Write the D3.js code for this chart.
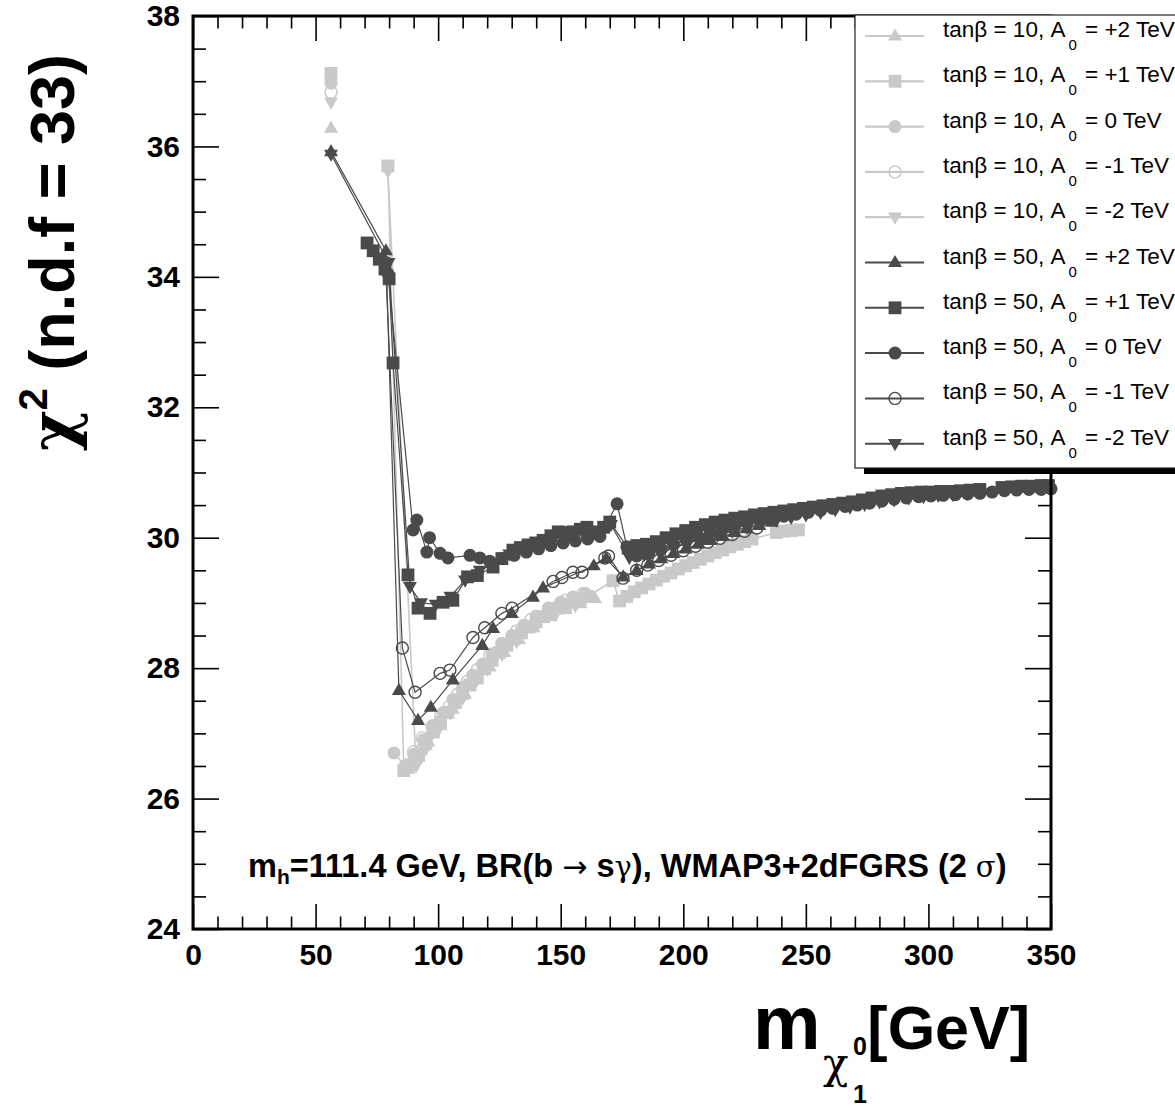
<!DOCTYPE html>
<html>
<head>
<meta charset="utf-8">
<script src="https://cdn.jsdelivr.net/npm/d3@7"></script>
<style>
  body { margin: 0; background: #fff; }
  svg { display: block; font-family: "Liberation Sans", Arial, Helvetica, sans-serif; }
</style>
</head>
<body>
<svg id="chart" width="1175" height="1109"></svg>
<script>
// ---- axis values ----
const xMajorTicks = [0, 50, 100, 150, 200, 250, 300, 350];
const xTickLabels = ["0", "50", "100", "150", "200", "250", "300", "350"];
const yMajorTicks = [24, 26, 28, 30, 32, 34, 36, 38];
const yTickLabels = ["24", "26", "28", "30", "32", "34", "36", "38"];

// ---- chi^2 vs neutralino mass; null marks a break in the line ----
// tan(beta) = 10
const tb10_Ap2 = [[56.3,36.28], null, [88,26.45],[92,26.64],[96,26.87],[101,27.12],[106,27.37],[111,27.6],[116,27.82],[121,28.02],[127,28.24],[133,28.44],[139,28.62],[146,28.79],[152,28.9],[158,28.99],[164,29.07]];
const tb10_Ap1 = [[56.3,37.12], null, [79.5,35.7],[86,26.43],[89,26.52],[92,26.66],[95,26.84],[98,27.02],[101,27.17],[104,27.32],[107,27.47],[110,27.61],[113,27.74],[116,27.87],[119,27.99],[122,28.12],[125,28.24],[128,28.35],[131,28.45],[134,28.54],[137,28.63],[140,28.71],[143,28.79],[146,28.86],[149,28.92],[152,28.97],[155,29.02],[158,29.06],[161,29.1],[171.3,29.34],[174,29.03],[177,29.1],[180,29.17],[183,29.23],[186,29.29],[189,29.35],[192,29.41],[195,29.46],[198,29.52],[201,29.57],[204,29.62],[207,29.67],[210,29.72],[213,29.77],[216,29.81],[219,29.86],[222,29.9],[225,29.94],[228,29.98],[238,30.08],[241,30.1],[244,30.11],[247,30.12]];
const tb10_A0  = [[56.3,36.97], null, [82,26.7],[86.5,26.5],[90,26.68],[94,26.9],[98,27.12],[102,27.32],[106,27.52],[110,27.71],[114,27.89],[118,28.06],[122,28.22],[126,28.37],[130,28.5],[135,28.66],[140,28.8],[145,28.92],[150,29.01],[155,29.09],[160,29.15]];
const tb10_Am1 = [[56.3,36.83], null, [90,26.72],[93.5,26.93],[97.5,27.11],[101,27.26],[104.5,27.41],[108,27.6],[112,27.8],[116,27.98],[121,28.2],[126,28.38],[132,28.57],[138,28.75],[145,28.92],[152,29.04],[159,29.14]];
const tb10_Am2 = [[56.3,36.68], null, [79.5,35.62],[91,26.5],[95,26.76],[100,27.05],[105,27.31],[110,27.54],[115,27.77],[120,27.98],[126,28.21],[132,28.41],[140,28.65],[148,28.83],[156,28.96]];

// tan(beta) = 50
const tb50_Ap2 = [[56.3,35.92],[78.7,34.4],[84,27.66],[91.8,27.2],[97,27.4],[106,27.82],[118,28.35],[122.4,28.61],[130,28.84],[138.7,29.09],[142.8,29.23],[163.5,29.57],[168.5,29.68],[175.5,29.4],[181,29.5],[186,29.6],[191,29.68],[196,29.76],[201,29.83],[206,29.9],[211,29.96],[216,30.02],[221,30.08],[226,30.14],[231,30.19],[236,30.24]];
const tb50_Ap1 = [[71,34.52],[73.5,34.4],[76,34.27],[78.3,34.12],[80,33.97],[81.6,32.68],[87.7,29.43],[91.8,28.92],[96.7,28.84],[102,29.01],[106,29.04],[112,29.4],[116,29.42],[122.4,29.55],[126,29.68],[130.5,29.81],[133.5,29.85],[136.7,29.89],[139.8,29.92],[142.8,29.96],[146,30.03],[149,30.09],[152,30.08],[155,30.09],[158,30.13],[160.7,30.16],[164.8,30.09],[167.5,30.16],[170,30.24],[177.5,29.84],[181,29.88],[185,29.9],[189,29.94],[193,30.0],[197,30.06],[201,30.11],[205,30.16],[209,30.2],[213,30.24],[217,30.27],[221,30.3],[225,30.32],[229,30.35],[233,30.37],[237,30.39],[241,30.41],[245,30.43],[249,30.45],[253,30.47],[257,30.49],[261,30.51],[265,30.53],[269,30.55],[273,30.58],[277,30.61],[281,30.64],[285,30.66],[289,30.68],[293,30.69],[297,30.7],[301,30.7],[305,30.71],[309,30.71],[313,30.72],[317,30.73],[321,30.74],[330,30.77],[334,30.78],[338,30.79],[342,30.79],[346,30.8],[349,30.8]];
const tb50_A0  = [[79.5,34.05],[89.8,30.12],[91.3,30.27],[95.4,29.78],[96.5,30.0],[100.8,29.76],[104,29.69],[113,29.73],[117,29.69],[121,29.64],[126,29.68],[131,29.73],[136,29.78],[141,29.83],[146,29.88],[151,29.92],[156,29.95],[161,29.98],[166,30.02],[173,30.52],[177,29.86],[181,29.72],[186,29.76],[191,29.83],[196,29.9],[201,29.97],[206,30.03],[211,30.09],[216,30.14],[221,30.19],[226,30.23],[231,30.27],[236,30.3],[241,30.33],[246,30.36],[251,30.39],[256,30.42],[261,30.45],[266,30.48],[271,30.5],[276,30.53],[281,30.56],[286,30.59],[291,30.61],[296,30.63],[301,30.64],[306,30.65],[311,30.66],[316,30.67],[321,30.68],[326,30.7],[331,30.72],[336,30.73],[341,30.74],[346,30.74],[350,30.75]];
const tb50_Am1 = [[78.5,34.22],[85.4,28.31],[90.6,27.63],[100.8,27.92],[104.8,27.97],[114.2,28.47],[119,28.62],[126,28.84],[130.2,28.92],[146.9,29.33],[150.5,29.39],[155,29.47],[158.7,29.47],[168,29.69],[169.5,29.72],[175.4,29.38],[181,29.5],[185.5,29.58],[190,29.65],[195,29.73],[200,29.8],[205,29.87],[210,29.93],[215,29.99],[220,30.05],[225,30.1],[230,30.15]];
const tb50_Am2 = [[56.3,35.88],[79.8,34.22],[88.5,29.25],[93,29.0],[99,28.98],[105,29.1],[111,29.35],[117,29.5],[123,29.6],[129,29.75],[135,29.85],[141,29.92],[147,29.98],[153,30.04],[159,30.08],[165,30.1],[170.5,30.2],[178,29.7],[184,29.74],[190,29.8],[196,29.86],[202,29.92],[208,29.98],[214,30.04],[220,30.1],[226,30.16],[232,30.22],[238,30.27],[244,30.31],[250,30.35],[256,30.39],[262,30.43],[268,30.47],[274,30.51],[280,30.55],[286,30.58],[292,30.61],[298,30.63],[304,30.65],[310,30.66],[316,30.68]];

const tanBetaValues = ["10", "10", "10", "10", "10", "50", "50", "50", "50", "50"];
const a0Values = ["+2", "+1", "0", "-1", "-2", "+2", "+1", "0", "-1", "-2"];

// ---- styles ----
const LIGHT = "#c9c9c9";
const DARK = "#4a4a4a";
const series = [
  { data: tb10_Ap2, color: LIGHT, marker: "triUp",   lw: 1.6 },
  { data: tb10_Ap1, color: LIGHT, marker: "square",  lw: 1.6 },
  { data: tb10_A0,  color: LIGHT, marker: "circle",  lw: 1.6 },
  { data: tb10_Am1, color: LIGHT, marker: "open",    lw: 1.6 },
  { data: tb10_Am2, color: LIGHT, marker: "triDown", lw: 1.6 },
  { data: tb50_Ap2, color: DARK,  marker: "triUp",   lw: 1.2 },
  { data: tb50_Ap1, color: DARK,  marker: "square",  lw: 1.2 },
  { data: tb50_A0,  color: DARK,  marker: "circle",  lw: 1.2 },
  { data: tb50_Am1, color: DARK,  marker: "open",    lw: 1.2 },
  { data: tb50_Am2, color: DARK,  marker: "triDown", lw: 1.2 }
];

const svg = d3.select("#chart");
const frame = { left: 193, right: 1051, top: 16, bottom: 929 };

const x = d3.scaleLinear().domain([0, 350]).range([frame.left, frame.right]);
const y = d3.scaleLinear().domain([24, 38]).range([frame.bottom, frame.top]);

svg.append("rect").attr("width", 1175).attr("height", 1109).attr("fill", "#fff");

// ---- ticks on all four sides, pointing inward ----
const xMinor = d3.range(0, 351, 10).filter(v => v % 50 !== 0);
const yMinor = d3.range(24, 38.001, 0.5).filter(v => v % 2 !== 0);

function styleAxis(g) {
  g.select(".domain").remove();
  g.selectAll(".tick line").attr("stroke", "#000").attr("stroke-width", 1.6);
}
function styleLabels(g) {
  g.selectAll("text").attr("font-size", "30px").attr("font-weight", "bold")
    .attr("fill", "#000").attr("font-family", "Liberation Sans, Arial, sans-serif");
}

svg.append("g").attr("transform", `translate(0,${frame.bottom})`)
  .call(d3.axisBottom(x).tickValues(xMajorTicks).tickSize(-25).tickPadding(15)
    .tickFormat((d, i) => xTickLabels[i]))
  .call(styleAxis).call(styleLabels);
svg.append("g").attr("transform", `translate(0,${frame.bottom})`)
  .call(d3.axisBottom(x).tickValues(xMinor).tickSize(-12.5).tickFormat(""))
  .call(styleAxis);
svg.append("g").attr("transform", `translate(0,${frame.top})`)
  .call(d3.axisTop(x).tickValues(xMajorTicks).tickSize(-25).tickFormat(""))
  .call(styleAxis);
svg.append("g").attr("transform", `translate(0,${frame.top})`)
  .call(d3.axisTop(x).tickValues(xMinor).tickSize(-12.5).tickFormat(""))
  .call(styleAxis);

svg.append("g").attr("transform", `translate(${frame.left},0)`)
  .call(d3.axisLeft(y).tickValues(yMajorTicks).tickSize(-26).tickPadding(13)
    .tickFormat((d, i) => yTickLabels[i]))
  .call(styleAxis).call(styleLabels);
svg.append("g").attr("transform", `translate(${frame.left},0)`)
  .call(d3.axisLeft(y).tickValues(yMinor).tickSize(-13).tickFormat(""))
  .call(styleAxis);
svg.append("g").attr("transform", `translate(${frame.right},0)`)
  .call(d3.axisRight(y).tickValues(yMajorTicks).tickSize(-26).tickFormat(""))
  .call(styleAxis);
svg.append("g").attr("transform", `translate(${frame.right},0)`)
  .call(d3.axisRight(y).tickValues(yMinor).tickSize(-13).tickFormat(""))
  .call(styleAxis);

// ---- markers ----
function markerPath(type) {
  if (type === "triUp") return "M0,-7.6L7,4.6L-7,4.6Z";
  if (type === "triDown") return "M0,7.6L7,-4.6L-7,-4.6Z";
  return null;
}
function drawMarker(g, type, cx, cy, color) {
  if (type === "square") {
    g.append("rect").attr("x", cx - 6.4).attr("y", cy - 6.4).attr("width", 12.8).attr("height", 12.8).attr("fill", color);
  } else if (type === "circle") {
    g.append("circle").attr("cx", cx).attr("cy", cy).attr("r", 6.5).attr("fill", color);
  } else if (type === "open") {
    g.append("circle").attr("cx", cx).attr("cy", cy).attr("r", 6).attr("fill", "none")
      .attr("stroke", color).attr("stroke-width", 1.4);
  } else {
    g.append("path").attr("d", markerPath(type)).attr("transform", `translate(${cx},${cy})`).attr("fill", color);
  }
}

const line = d3.line().defined(d => d !== null).x(d => x(d[0])).y(d => y(d[1]));

const plot = svg.append("g");
series.forEach(s => {
  const g = plot.append("g");
  g.append("path").datum(s.data).attr("d", line).attr("fill", "none")
    .attr("stroke", s.color).attr("stroke-width", s.lw);
  s.data.filter(d => d !== null).forEach(d => drawMarker(g, s.marker, x(d[0]), y(d[1]), s.color));
});

// ---- frame ----
svg.append("rect").attr("x", frame.left).attr("y", frame.top)
  .attr("width", frame.right - frame.left).attr("height", frame.bottom - frame.top)
  .attr("fill", "none").attr("stroke", "#000").attr("stroke-width", 3);

// ---- caption inside the frame ----
const cap = svg.append("text").attr("x", 248).attr("y", 877)
  .attr("font-size", "32.5px").attr("font-weight", "bold").attr("fill", "#000");
cap.append("tspan").text("m");
cap.append("tspan").attr("font-size", "21px").attr("dy", 7).text("h");
cap.append("tspan").attr("dy", -7).text("=111.4 GeV, BR(b ");
cap.append("tspan").attr("font-weight", "normal").attr("font-family", "DejaVu Sans").attr("font-size", "30px").text("→");
cap.append("tspan").text(" s");
cap.append("tspan").attr("font-weight", "normal").attr("font-family", "DejaVu Serif").attr("font-size", "29px").text("γ");
cap.append("tspan").text("), WMAP3+2dFGRS (2 ");
cap.append("tspan").attr("font-weight", "normal").attr("font-family", "DejaVu Serif").attr("font-size", "29px").text("σ");
cap.append("tspan").text(")");

// ---- axis titles ----
const yTitle = svg.append("text").attr("transform", "translate(74,54) rotate(-90)")
  .attr("text-anchor", "end").attr("font-size", "63px").attr("font-weight", "bold").attr("fill", "#000");
yTitle.append("tspan").attr("font-family", "DejaVu Serif").attr("font-size", "62px").text("χ");
yTitle.append("tspan").attr("font-size", "40px").attr("dy", -27).text("2");
yTitle.append("tspan").attr("dy", 27).text(" (n.d.f = 33)");

const xt = svg.append("g").attr("font-weight", "bold").attr("fill", "#000");
xt.append("text").attr("x", 753).attr("y", 1049).attr("font-size", "76px").text("m");
xt.append("text").attr("x", 823).attr("y", 1078).attr("font-size", "42px").attr("font-weight", "normal")
  .attr("font-family", "DejaVu Serif").text("χ");
xt.append("text").attr("x", 853).attr("y", 1055).attr("font-size", "25px").text("0");
xt.append("text").attr("x", 853).attr("y", 1103).attr("font-size", "25px").text("1");
xt.append("text").attr("x", 1030).attr("y", 1049).attr("font-size", "61px").attr("text-anchor", "end").text("[GeV]");

// ---- legend ----
const leg = { x: 855, y: 15, w: 340, h: 453, row0: 21, step: 45.3 };
svg.append("rect").attr("x", leg.x + 9).attr("y", leg.y + 6).attr("width", leg.w).attr("height", leg.h).attr("fill", "#000");
svg.append("rect").attr("x", leg.x).attr("y", leg.y).attr("width", leg.w).attr("height", leg.h)
  .attr("fill", "#fff").attr("stroke", "#222").attr("stroke-width", 1.2);

series.forEach((s, i) => {
  const ly = leg.y + leg.row0 + i * leg.step;
  const g = svg.append("g");
  g.append("line").attr("x1", 865).attr("x2", 924).attr("y1", ly).attr("y2", ly)
    .attr("stroke", s.color).attr("stroke-width", s.color === LIGHT ? 2.2 : 2);
  drawMarker(g, s.marker, 895, ly, s.color);
  const t = g.append("text").attr("x", 943).attr("y", ly + 1).attr("font-size", "22.5px").attr("fill", "#000");
  t.append("tspan").text(`tanβ = ${tanBetaValues[i]}, A`);
  t.append("tspan").attr("font-size", "15px").attr("dy", 13).attr("dx", 3).text("0");
  t.append("tspan").attr("dy", -13).attr("dx", 2).text(` = ${a0Values[i]} TeV`);
});
</script>
</body>
</html>
